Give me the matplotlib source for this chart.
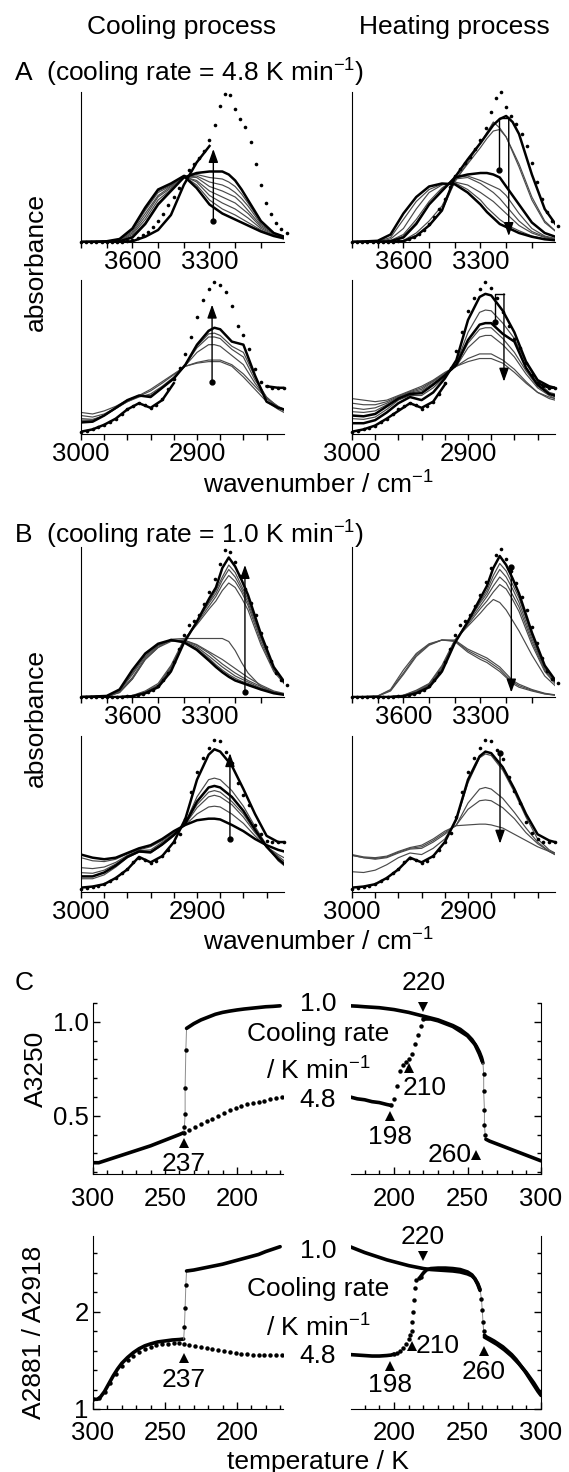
import numpy as np
import matplotlib
matplotlib.use('Agg')
import matplotlib.pyplot as plt
from matplotlib.ticker import FixedLocator, MultipleLocator

plt.rcParams['font.family'] = ['Liberation Sans', 'DejaVu Sans']
plt.rcParams['mathtext.default'] = 'regular'
plt.rcParams['font.size'] = 19

nan = np.nan

# ---------------- spectra: wavenumber grids ----------------
oh_grid = [3800, 3700, 3650, 3600, 3550, 3500, 3450, 3400, 3350, 3300, 3275, 3250, 3225, 3200, 3175, 3150, 3100, 3050, 3000]
ch_grid = [3000, 2990, 2980, 2970, 2960, 2950, 2940, 2930, 2920, 2910, 2900, 2890, 2885, 2880, 2870, 2860, 2850, 2840, 2830, 2825]
oh_dot_x = np.arange(3800, 2999, -20)
ch_dot_x = np.arange(3000, 2824, -5)

# A, cooling, OH region
a_tl_warm = [0, 0.005, 0.02, 0.09, 0.23, 0.35, 0.39, 0.44, 0.36, 0.25, 0.22, 0.19, 0.17, 0.15, 0.13, 0.11, 0.07, 0.04, 0.02]
a_tl_t1 = [0, 0.004, 0.02, 0.085, 0.22, 0.34, 0.38, 0.44, 0.38, 0.28, 0.25, 0.22, 0.20, 0.18, 0.155, 0.13, 0.08, 0.045, 0.02]
a_tl_t2 = [0, 0.003, 0.015, 0.08, 0.21, 0.33, 0.375, 0.44, 0.40, 0.31, 0.285, 0.26, 0.24, 0.22, 0.19, 0.16, 0.09, 0.05, 0.02]
a_tl_t3 = [0, 0.002, 0.012, 0.07, 0.19, 0.31, 0.37, 0.435, 0.41, 0.34, 0.32, 0.30, 0.28, 0.26, 0.225, 0.19, 0.10, 0.055, 0.025]
a_tl_t4 = [0, 0.002, 0.01, 0.06, 0.17, 0.30, 0.36, 0.435, 0.43, 0.37, 0.355, 0.34, 0.32, 0.30, 0.26, 0.21, 0.11, 0.06, 0.025]
a_tl_t5 = [0, 0.001, 0.008, 0.05, 0.15, 0.28, 0.35, 0.43, 0.44, 0.40, 0.39, 0.38, 0.36, 0.33, 0.29, 0.24, 0.12, 0.06, 0.03]
a_tl_t6 = [0, 0.001, 0.006, 0.04, 0.13, 0.26, 0.345, 0.43, 0.45, 0.43, 0.425, 0.42, 0.40, 0.37, 0.32, 0.26, 0.13, 0.06, 0.03]
a_tl_cold = [0, 0, 0.005, 0.03, 0.12, 0.25, 0.34, 0.43, 0.46, 0.47, 0.47, 0.47, 0.45, 0.41, 0.35, 0.28, 0.14, 0.06, 0.03]
a_tl_side = [0, 0, 0, 0.005, 0.035, 0.08, 0.18, 0.38, 0.53, 0.64, nan, nan, nan, nan, nan, nan, nan, nan, nan]
a_tl_dots = [0, 0, 0, 0, 0, 0, 0, 0, 0.003, 0.008, 0.015, 0.025, 0.045, 0.07, 0.10, 0.14, 0.19, 0.25, 0.30, 0.36,
             0.44, 0.48, 0.52, 0.56, 0.61, 0.68, 0.78, 0.91, 0.99, 0.98, 0.89, 0.82, 0.77, 0.67, 0.52, 0.38,
             0.26, 0.19, 0.13, 0.09, 0.06]

# A, heating, OH region
a_tr_start = [0, 0, 0.005, 0.03, 0.12, 0.25, 0.34, 0.43, 0.45, 0.46, 0.46, 0.45, 0.43, 0.37, 0.31, 0.25, 0.13, 0.06, 0.03]
a_tr_p1 = [0, 0, 0, 0.005, 0.04, 0.11, 0.21, 0.40, 0.53, 0.66, 0.73, 0.80, 0.76, 0.70, 0.60, 0.50, 0.28, 0.13, 0.06]
a_tr_p2 = [0, 0, 0, 0.01, 0.06, 0.14, 0.24, 0.41, 0.52, 0.63, 0.69, 0.74, 0.75, 0.70, 0.61, 0.52, 0.30, 0.14, 0.06]
a_tr_pmax = [0, 0, 0, 0.005, 0.04, 0.11, 0.21, 0.43, 0.55, 0.66, 0.72, 0.78, 0.82, 0.84, 0.80, 0.72, 0.45, 0.22, 0.10]
a_tr_h0 = [0, 0, 0.008, 0.04, 0.13, 0.25, 0.35, 0.43, 0.44, 0.41, 0.39, 0.37, 0.35, 0.31, 0.25, 0.19, 0.09, 0.04, 0.02]
a_tr_h1 = [0, 0, 0.01, 0.05, 0.15, 0.27, 0.36, 0.42, 0.43, 0.39, 0.36, 0.33, 0.29, 0.24, 0.19, 0.14, 0.07, 0.035, 0.015]
a_tr_h2 = [0, 0.002, 0.02, 0.09, 0.22, 0.33, 0.38, 0.40, 0.38, 0.33, 0.30, 0.27, 0.23, 0.19, 0.15, 0.11, 0.06, 0.03, 0.01]
a_tr_m2 = [0, 0.003, 0.03, 0.15, 0.27, 0.35, 0.385, 0.395, 0.35, 0.28, 0.23, 0.19, 0.15, 0.12, 0.095, 0.075, 0.04, 0.02, 0.01]
a_tr_m1 = [0, 0.008, 0.05, 0.19, 0.30, 0.37, 0.39, 0.385, 0.33, 0.25, 0.20, 0.16, 0.12, 0.10, 0.08, 0.06, 0.035, 0.018, 0.01]
a_tr_dots = [0, 0, 0, 0, 0, 0, 0, 0, 0.002, 0.005, 0.01, 0.02, 0.035, 0.055, 0.08, 0.12, 0.17, 0.22, 0.29, 0.37,
             0.44, 0.49, 0.53, 0.57, 0.62, 0.68, 0.76, 0.87, 0.96, 1.0, 0.90, 0.84, 0.79, 0.72, 0.64, 0.53,
             0.40, 0.29, 0.20, 0.14, 0.11]

# A, cooling, CH region
a_bl_cold = [0.075, 0.08, 0.12, 0.17, 0.22, 0.25, 0.24, 0.30, 0.36, 0.45, 0.58, 0.67, 0.69, 0.68, 0.60, 0.58, 0.38, 0.21, 0.17, 0.16]
a_bl_w1 = [0.14, 0.13, 0.15, 0.18, 0.22, 0.25, 0.29, 0.34, 0.39, 0.44, 0.46, 0.47, 0.47, 0.47, 0.44, 0.37, 0.29, 0.21, 0.16, 0.14]
a_bl_w2 = [0.12, 0.11, 0.13, 0.17, 0.21, 0.245, 0.28, 0.33, 0.385, 0.44, 0.465, 0.48, 0.48, 0.48, 0.45, 0.39, 0.31, 0.23, 0.18, 0.16]
a_bl_m1 = [0.10, 0.095, 0.12, 0.165, 0.21, 0.24, 0.26, 0.31, 0.37, 0.445, 0.53, 0.58, 0.58, 0.57, 0.51, 0.45, 0.33, 0.23, 0.17, 0.15]
a_bl_m2 = [0.09, 0.09, 0.12, 0.165, 0.215, 0.245, 0.25, 0.30, 0.365, 0.45, 0.56, 0.63, 0.63, 0.62, 0.55, 0.50, 0.35, 0.24, 0.175, 0.155]
a_bl_m3 = [0.085, 0.085, 0.12, 0.17, 0.22, 0.25, 0.245, 0.30, 0.36, 0.45, 0.57, 0.65, 0.655, 0.64, 0.57, 0.53, 0.37, 0.235, 0.175, 0.16]
a_bl_side = [0.015, 0.03, 0.06, 0.10, 0.16, 0.20, 0.17, 0.22, 0.33, nan, nan, nan, nan, nan, nan, nan, nan, 0.31, 0.30, 0.30]
a_bl_dots = [0.015, 0.02, 0.03, 0.045, 0.06, 0.08, 0.10, 0.13, 0.16, 0.185, 0.20, 0.19, 0.17, 0.19, 0.23, 0.29,
             0.36, 0.43, 0.52, 0.63, 0.76, 0.87, 0.94, 0.985, 0.97, 0.92, 0.83, 0.70, 0.64, 0.55, 0.42, 0.34,
             0.31, 0.30, 0.30, 0.30]

# A, heating, CH region
a_br_w1 = [0.23, 0.22, 0.21, 0.22, 0.25, 0.28, 0.31, 0.35, 0.40, 0.44, 0.47, 0.49, 0.49, 0.49, 0.46, 0.40, 0.33, 0.27, 0.24, 0.23]
a_br_w2 = [0.20, 0.19, 0.19, 0.21, 0.245, 0.275, 0.30, 0.345, 0.395, 0.44, 0.49, 0.52, 0.52, 0.52, 0.48, 0.42, 0.34, 0.27, 0.23, 0.22]
a_br_m1 = [0.17, 0.16, 0.17, 0.20, 0.24, 0.27, 0.29, 0.34, 0.39, 0.44, 0.56, 0.63, 0.64, 0.64, 0.58, 0.50, 0.39, 0.30, 0.25, 0.23]
a_br_m2 = [0.145, 0.14, 0.15, 0.19, 0.235, 0.265, 0.28, 0.33, 0.385, 0.445, 0.59, 0.68, 0.69, 0.69, 0.62, 0.53, 0.41, 0.31, 0.26, 0.24]
a_br_start = [0.12, 0.115, 0.13, 0.18, 0.23, 0.26, 0.265, 0.32, 0.38, 0.45, 0.61, 0.71, 0.72, 0.72, 0.65, 0.60, 0.43, 0.32, 0.26, 0.25]
a_br_high = [0.10, 0.095, 0.11, 0.16, 0.22, 0.25, 0.25, 0.30, 0.37, 0.46, 0.66, 0.79, 0.805, 0.80, 0.72, 0.62, 0.46, 0.34, 0.27, 0.26]
a_br_max = [0.07, 0.07, 0.09, 0.14, 0.20, 0.24, 0.22, 0.27, 0.36, 0.48, 0.74, 0.89, 0.91, 0.90, 0.80, 0.66, 0.47, 0.35, 0.31, 0.30]
a_br_side = [0.015, 0.03, 0.055, 0.10, 0.15, 0.20, 0.17, 0.21, 0.32, nan, nan, nan, nan, nan, nan, nan, nan, 0.33, 0.30, 0.30]
a_br_dots = [0.015, 0.02, 0.03, 0.04, 0.055, 0.075, 0.10, 0.13, 0.16, 0.185, 0.20, 0.19, 0.165, 0.18, 0.21, 0.26,
             0.33, 0.43, 0.54, 0.66, 0.80, 0.88, 0.94, 0.985, 0.95, 0.88, 0.79, 0.70, 0.62, 0.56, 0.46, 0.38,
             0.33, 0.31, 0.30, 0.30]

# B, cooling, OH region
b_tl_side = [0, 0, 0, 0.005, 0.025, 0.065, 0.17, 0.36, 0.50, 0.66, 0.73, 0.86, 0.93, 0.87, 0.78, 0.68, 0.42, 0.20, 0.08]
b_tl_t1 = [0, 0, 0, 0.005, 0.03, 0.07, 0.18, 0.37, 0.50, 0.64, 0.71, 0.80, 0.88, 0.83, 0.74, 0.65, 0.40, 0.19, 0.08]
b_tl_t2 = [0, 0, 0, 0.006, 0.03, 0.075, 0.19, 0.37, 0.50, 0.63, 0.69, 0.78, 0.85, 0.80, 0.72, 0.63, 0.39, 0.19, 0.08]
b_tl_t3 = [0, 0, 0.002, 0.008, 0.035, 0.08, 0.20, 0.375, 0.49, 0.61, 0.67, 0.75, 0.81, 0.77, 0.70, 0.61, 0.37, 0.18, 0.075]
b_tl_t4 = [0, 0, 0.003, 0.01, 0.04, 0.09, 0.21, 0.38, 0.48, 0.59, 0.64, 0.71, 0.76, 0.73, 0.66, 0.58, 0.35, 0.17, 0.07]
b_tl_flat = [0, 0.003, 0.03, 0.12, 0.25, 0.33, 0.385, 0.39, 0.39, 0.39, 0.39, 0.39, 0.37, 0.31, 0.23, 0.16, 0.07, 0.03, 0.015]
b_tl_f1 = [0, 0.003, 0.03, 0.12, 0.25, 0.33, 0.37, 0.38, 0.35, 0.30, 0.275, 0.25, 0.22, 0.19, 0.16, 0.13, 0.08, 0.04, 0.02]
b_tl_f2 = [0, 0.004, 0.035, 0.13, 0.26, 0.34, 0.375, 0.38, 0.345, 0.29, 0.255, 0.22, 0.19, 0.16, 0.135, 0.11, 0.07, 0.035, 0.015]
b_tl_f3 = [0, 0.005, 0.04, 0.15, 0.27, 0.345, 0.38, 0.375, 0.335, 0.27, 0.235, 0.20, 0.17, 0.14, 0.12, 0.10, 0.06, 0.03, 0.015]
b_tl_f4 = [0, 0.006, 0.045, 0.16, 0.28, 0.35, 0.38, 0.37, 0.325, 0.255, 0.215, 0.18, 0.15, 0.125, 0.105, 0.09, 0.055, 0.03, 0.015]
b_tl_warm = [0, 0.007, 0.05, 0.18, 0.29, 0.355, 0.38, 0.365, 0.315, 0.24, 0.20, 0.165, 0.135, 0.11, 0.095, 0.08, 0.05, 0.025, 0.012]
b_tl_dots = [0, 0, 0, 0, 0, 0, 0, 0, 0.002, 0.004, 0.007, 0.012, 0.02, 0.03, 0.045, 0.07, 0.11, 0.16, 0.23, 0.32,
             0.41, 0.48, 0.51, 0.55, 0.62, 0.70, 0.79, 0.89, 0.98, 0.97, 0.90, 0.81, 0.72, 0.63, 0.55, 0.43,
             0.33, 0.24, 0.16, 0.11, 0.08]

# B, heating, OH region
b_tr_side = [0, 0, 0, 0.005, 0.025, 0.065, 0.17, 0.36, 0.50, 0.66, 0.74, 0.86, 0.94, 0.88, 0.79, 0.69, 0.43, 0.21, 0.09]
b_tr_u1 = [0, 0, 0, 0.005, 0.03, 0.07, 0.18, 0.37, 0.50, 0.64, 0.71, 0.81, 0.89, 0.84, 0.75, 0.66, 0.41, 0.20, 0.085]
b_tr_u2 = [0, 0, 0, 0.006, 0.03, 0.075, 0.185, 0.37, 0.50, 0.63, 0.69, 0.78, 0.85, 0.80, 0.72, 0.63, 0.39, 0.19, 0.08]
b_tr_u3 = [0, 0, 0.002, 0.008, 0.035, 0.08, 0.19, 0.37, 0.49, 0.61, 0.67, 0.74, 0.80, 0.76, 0.68, 0.60, 0.37, 0.18, 0.075]
b_tr_u4 = [0, 0, 0.003, 0.01, 0.04, 0.085, 0.20, 0.375, 0.48, 0.59, 0.64, 0.70, 0.75, 0.72, 0.65, 0.57, 0.35, 0.17, 0.07]
b_tr_u5 = [0, 0, 0.004, 0.012, 0.045, 0.09, 0.21, 0.38, 0.47, 0.56, 0.61, 0.65, 0.63, 0.58, 0.51, 0.44, 0.28, 0.14, 0.06]
b_tr_v1 = [0, 0.005, 0.04, 0.15, 0.27, 0.345, 0.38, 0.38, 0.32, 0.28, 0.26, 0.23, 0.20, 0.155, 0.11, 0.085, 0.05, 0.025, 0.012]
b_tr_v2 = [0, 0.006, 0.045, 0.16, 0.28, 0.35, 0.38, 0.375, 0.31, 0.265, 0.245, 0.215, 0.185, 0.14, 0.10, 0.075, 0.045, 0.022, 0.01]
b_tr_v3 = [0, 0.007, 0.05, 0.18, 0.29, 0.355, 0.38, 0.37, 0.30, 0.25, 0.23, 0.20, 0.17, 0.13, 0.09, 0.065, 0.04, 0.02, 0.01]
b_tr_dots = [0, 0, 0, 0, 0, 0, 0, 0, 0.002, 0.004, 0.007, 0.012, 0.02, 0.03, 0.045, 0.07, 0.11, 0.16, 0.23, 0.32,
             0.41, 0.48, 0.51, 0.55, 0.61, 0.68, 0.77, 0.86, 0.95, 0.99, 0.92, 0.84, 0.76, 0.67, 0.58, 0.47,
             0.36, 0.26, 0.17, 0.12, 0.09]

# B, cooling, CH region
b_bl_warm = [0.24, 0.22, 0.21, 0.22, 0.25, 0.28, 0.30, 0.34, 0.39, 0.43, 0.46, 0.47, 0.47, 0.465, 0.43, 0.39, 0.34, 0.30, 0.27, 0.26]
b_bl_1 = [0.22, 0.20, 0.195, 0.21, 0.245, 0.27, 0.29, 0.33, 0.38, 0.43, 0.50, 0.545, 0.55, 0.545, 0.50, 0.44, 0.36, 0.29, 0.24, 0.22]
b_bl_2 = [0.156, 0.15, 0.16, 0.19, 0.235, 0.265, 0.27, 0.32, 0.375, 0.435, 0.54, 0.61, 0.62, 0.61, 0.56, 0.48, 0.38, 0.29, 0.23, 0.20]
b_bl_3 = [0.124, 0.12, 0.14, 0.18, 0.23, 0.26, 0.26, 0.31, 0.37, 0.44, 0.56, 0.64, 0.65, 0.64, 0.58, 0.50, 0.39, 0.29, 0.22, 0.19]
b_bl_4 = [0.10, 0.10, 0.125, 0.17, 0.225, 0.26, 0.255, 0.305, 0.365, 0.44, 0.58, 0.67, 0.68, 0.67, 0.61, 0.52, 0.40, 0.29, 0.21, 0.18]
b_bl_5 = [0.085, 0.085, 0.11, 0.16, 0.22, 0.255, 0.25, 0.30, 0.36, 0.445, 0.61, 0.72, 0.73, 0.72, 0.65, 0.55, 0.42, 0.30, 0.20, 0.17]
b_bl_cold = [0.028, 0.035, 0.05, 0.09, 0.145, 0.225, 0.19, 0.23, 0.32, 0.47, 0.72, 0.88, 0.915, 0.90, 0.81, 0.66, 0.50, 0.36, 0.32, 0.32]
b_bl_dots = [0.02, 0.025, 0.03, 0.04, 0.05, 0.07, 0.09, 0.12, 0.145, 0.19, 0.22, 0.205, 0.185, 0.20, 0.23, 0.27,
             0.32, 0.37, 0.47, 0.64, 0.77, 0.86, 0.92, 0.975, 0.965, 0.90, 0.83, 0.70, 0.625, 0.56, 0.43, 0.37,
             0.33, 0.32, 0.32, 0.32]

# B, heating, CH region
b_br_cold = [0.028, 0.035, 0.05, 0.09, 0.145, 0.22, 0.19, 0.23, 0.32, 0.47, 0.72, 0.87, 0.90, 0.89, 0.80, 0.66, 0.50, 0.37, 0.33, 0.32]
b_br_t = [0.13, 0.125, 0.14, 0.175, 0.22, 0.25, 0.24, 0.28, 0.34, 0.46, 0.70, 0.86, 0.885, 0.875, 0.78, 0.64, 0.48, 0.34, 0.27, 0.25]
b_br_1 = [0.235, 0.22, 0.21, 0.22, 0.25, 0.275, 0.28, 0.32, 0.37, 0.43, 0.57, 0.66, 0.67, 0.66, 0.60, 0.51, 0.41, 0.32, 0.26, 0.24]
b_br_2 = [0.235, 0.22, 0.215, 0.225, 0.255, 0.28, 0.29, 0.33, 0.38, 0.43, 0.53, 0.585, 0.59, 0.585, 0.54, 0.47, 0.38, 0.31, 0.26, 0.24]
b_br_3 = [0.24, 0.225, 0.22, 0.23, 0.26, 0.285, 0.30, 0.34, 0.39, 0.425, 0.43, 0.435, 0.435, 0.43, 0.41, 0.37, 0.33, 0.29, 0.26, 0.25]
b_br_dots = [0.02, 0.025, 0.03, 0.04, 0.05, 0.07, 0.09, 0.12, 0.145, 0.19, 0.22, 0.205, 0.185, 0.20, 0.23, 0.27,
             0.32, 0.38, 0.48, 0.64, 0.77, 0.86, 0.92, 0.975, 0.965, 0.91, 0.85, 0.74, 0.65, 0.57, 0.45, 0.38,
             0.34, 0.32, 0.32, 0.32]

# ---------------- C: temperature dependence ----------------
# A3250, cooling
c1_cool_T = [300, 296, 290, 280, 270, 260, 250, 240, 237]
c1_cool_v = [0.25, 0.25, 0.265, 0.29, 0.315, 0.34, 0.37, 0.40, 0.41]
c1_jump_T = [237, 236.5, 236, 236, 235.5, 235]
c1_jump_v = [0.41, 0.44, 0.51, 0.65, 0.85, 0.965]
c1_slow_T = [235, 230, 225, 220, 215, 210, 205, 200, 195, 190, 185, 180, 175, 170]
c1_slow_v = [0.965, 0.99, 1.01, 1.025, 1.04, 1.05, 1.057, 1.063, 1.068, 1.072, 1.076, 1.08, 1.082, 1.085]
c1_fast_T = [237, 233, 229, 225, 221, 217, 213, 209, 205, 201, 197, 193, 189, 185, 181, 177, 173, 169]
c1_fast_v = [0.41, 0.425, 0.44, 0.455, 0.47, 0.485, 0.50, 0.515, 0.53, 0.54, 0.55, 0.56, 0.57, 0.575, 0.58, 0.59, 0.595, 0.60]
# A3250, heating
c1_heat_slow_T = [170, 175, 180, 190, 200, 210, 220, 230, 235, 240, 245, 250, 253, 256, 258, 259.5, 260.5]
c1_heat_slow_v = [1.085, 1.083, 1.08, 1.075, 1.065, 1.05, 1.03, 1.01, 0.995, 0.98, 0.96, 0.93, 0.905, 0.87, 0.84, 0.81, 0.78]
c1_melt_T = [260.5, 261, 261, 261.5, 261.5, 262, 262.5]
c1_melt_v = [0.78, 0.72, 0.63, 0.53, 0.45, 0.40, 0.375]
c1_warm_T = [262.5, 265, 270, 275, 280, 285, 290, 295, 300]
c1_warm_v = [0.375, 0.365, 0.35, 0.335, 0.32, 0.305, 0.29, 0.275, 0.26]
c1_heat_fast_T = [170, 175, 180, 185, 190, 195, 198]
c1_heat_fast_v = [0.60, 0.59, 0.585, 0.575, 0.57, 0.56, 0.555]
c1_cryst_T = [198, 200, 202, 204, 206, 208, 210, 212, 214, 216, 218, 220]
c1_cryst_v = [0.555, 0.59, 0.66, 0.74, 0.77, 0.785, 0.80, 0.83, 0.88, 0.93, 0.98, 1.015]
c1_heat_fast2_T = [220, 225, 230, 240, 250, 255, 258, 260]
c1_heat_fast2_v = [1.015, 1.015, 1.005, 0.975, 0.925, 0.88, 0.83, 0.79]

# A2881/A2918, cooling
c2_cool_T = [300, 297, 295, 292, 289, 286, 283, 280, 276, 272, 268, 264, 260, 255, 250, 245, 240, 237]
c2_cool_v = [1.10, 1.10, 1.12, 1.18, 1.26, 1.34, 1.41, 1.47, 1.53, 1.58, 1.62, 1.65, 1.67, 1.69, 1.70, 1.71, 1.715, 1.72]
c2_cool_fast1_T = [300, 296, 292, 288, 284, 280, 276, 272, 268, 264, 260, 256, 252, 248, 244, 240]
c2_cool_fast1_v = [1.10, 1.11, 1.17, 1.27, 1.36, 1.44, 1.50, 1.55, 1.59, 1.62, 1.64, 1.655, 1.665, 1.67, 1.675, 1.68]
c2_jump_T = [237, 236.5, 236, 235.5, 235]
c2_jump_v = [1.72, 1.84, 2.04, 2.28, 2.42]
c2_slow_T = [235, 230, 225, 220, 215, 210, 205, 200, 195, 190, 185, 180, 175, 170]
c2_slow_v = [2.42, 2.43, 2.445, 2.46, 2.475, 2.49, 2.51, 2.53, 2.55, 2.57, 2.59, 2.62, 2.645, 2.67]
c2_fast_T = [237, 233, 229, 225, 221, 217, 213, 209, 205, 201, 197, 193, 189, 185, 181, 177, 173, 169]
c2_fast_v = [1.67, 1.66, 1.65, 1.635, 1.625, 1.615, 1.605, 1.595, 1.585, 1.575, 1.57, 1.565, 1.56, 1.555, 1.555, 1.555, 1.555, 1.555]
# A2881/A2918, heating
c2_heat_slow_T = [170, 175, 180, 185, 190, 195, 200, 205, 210, 215, 220, 225, 230, 235, 240, 245, 250, 253, 255, 257, 258.5]
c2_heat_slow_v = [2.67, 2.64, 2.61, 2.585, 2.56, 2.535, 2.515, 2.495, 2.475, 2.46, 2.445, 2.435, 2.43, 2.425, 2.42, 2.41, 2.39, 2.37, 2.34, 2.29, 2.23]
c2_melt_T = [258.5, 259.5, 260, 260.5, 261, 261.5]
c2_melt_v = [2.23, 2.13, 2.02, 1.90, 1.80, 1.76]
c2_warm_T = [261.5, 263, 265, 268, 271, 274, 277, 280, 283, 286, 289, 292, 295, 298, 300]
c2_warm_v = [1.76, 1.74, 1.725, 1.70, 1.67, 1.64, 1.60, 1.56, 1.51, 1.45, 1.39, 1.32, 1.25, 1.18, 1.14]
c2_heat_fast_T = [170, 175, 180, 185, 190, 195, 198, 200]
c2_heat_fast_v = [1.56, 1.555, 1.55, 1.545, 1.545, 1.55, 1.555, 1.565]
c2_cryst_T = [200, 202, 204, 206, 208, 210, 211, 212, 212.5, 213, 213.5, 214, 215, 217, 218]
c2_cryst_v = [1.565, 1.58, 1.60, 1.63, 1.67, 1.72, 1.76, 1.80, 1.90, 2.0, 2.12, 2.24, 2.33, 2.35, 2.36]
c2_heat_fast2_T = [218, 220, 222, 225, 230, 235, 240, 245, 250, 253, 255, 257, 258.5]
c2_heat_fast2_v = [2.36, 2.40, 2.43, 2.445, 2.45, 2.45, 2.445, 2.435, 2.41, 2.38, 2.34, 2.28, 2.22]
c2_warm2_T = [261.5, 265, 270, 275, 280, 285, 290, 295, 300]
c2_warm2_v = [1.74, 1.71, 1.665, 1.61, 1.545, 1.465, 1.375, 1.27, 1.15]

# ---------------- drawing ----------------
W, H = 569, 1472
fig = plt.figure(figsize=(W / 100, H / 100), dpi=100)
THIN = dict(color='#4a4a4a', lw=0.85)
THICK = dict(color='k', lw=1.8)


def px_axes(x0, y0, x1, y1):
    ax = fig.add_axes([x0 / W, 1 - y1 / H, (x1 - x0) / W, (y1 - y0) / H])
    ax.patch.set_alpha(0)
    return ax


def spec_axes(x0, y0, x1, y1, region):
    ax = px_axes(x0, y0, x1, y1)
    for s in ['top', 'right']:
        ax.spines[s].set_visible(False)
    ax.set_yticks([])
    ax.set_ylim(0, 1)
    if region == 'oh':
        ax.set_xlim(3800, 3010)
        ax.xaxis.set_major_locator(FixedLocator([3600, 3300]))
        ax.xaxis.set_minor_locator(MultipleLocator(100))
    else:
        ax.set_xlim(3000, 2825)
        ax.xaxis.set_major_locator(FixedLocator([3000, 2900]))
        ax.xaxis.set_minor_locator(MultipleLocator(20))
    ax.tick_params(axis='x', which='both', direction='out', length=4, width=1, pad=2, labelsize=18.5)
    return ax


def draw_spec(ax, grid, thin, thick, dots_x, dots_y):
    for y in thin:
        ax.plot(grid, y, **THIN)
    for y in thick:
        ax.plot(grid, y, **THICK)
    ax.plot(dots_x, dots_y, 'o', color='k', ms=2.6, mew=0, clip_on=False)


ARW = dict(arrowstyle='-|>,head_length=0.9,head_width=0.32', mutation_scale=9,
           color='k', lw=1.0, shrinkA=0, shrinkB=0)


def arrow(ax, x, y0, y1):
    ax.annotate('', xy=(x, y1), xytext=(x, y0), arrowprops=ARW)
    ax.plot([x], [y0], 'o', color='k', ms=3.5)


def bracket(ax, xa, ya, ytop, xb, yb):
    ax.plot([xa, xa, xb], [ya, ytop, ytop], color='k', lw=1.0)
    ax.plot([xa], [ya], 'o', color='k', ms=3.5)
    ax.annotate('', xy=(xb, yb), xytext=(xb, ytop), arrowprops=ARW)


# A panels
ax = spec_axes(81, 92, 284, 242, 'oh')
draw_spec(ax, oh_grid, [a_tl_t1, a_tl_t2, a_tl_t3, a_tl_t4, a_tl_t5, a_tl_t6],
          [a_tl_warm, a_tl_cold, a_tl_side], oh_dot_x, a_tl_dots)
arrow(ax, 3285, 0.14, 0.62)

ax = spec_axes(352, 92, 555, 242, 'oh')
draw_spec(ax, oh_grid, [a_tr_p1, a_tr_p2, a_tr_h0, a_tr_h1, a_tr_h2, a_tr_m2],
          [a_tr_start, a_tr_pmax, a_tr_m1], oh_dot_x, a_tr_dots)
bracket(ax, 3228, 0.48, 0.83, 3190, 0.04)

ax = spec_axes(81, 280, 284, 434, 'ch')
draw_spec(ax, ch_grid, [a_bl_w1, a_bl_w2, a_bl_m1, a_bl_m2, a_bl_m3],
          [a_bl_cold, a_bl_side], ch_dot_x, a_bl_dots)
arrow(ax, 2887, 0.34, 0.84)

ax = spec_axes(352, 280, 555, 434, 'ch')
draw_spec(ax, ch_grid, [a_br_w1, a_br_w2, a_br_m1, a_br_m2, a_br_high],
          [a_br_start, a_br_max, a_br_side], ch_dot_x, a_br_dots)
bracket(ax, 2877, 0.73, 0.91, 2869, 0.34)

# B panels
ax = spec_axes(81, 547, 284, 697, 'oh')
draw_spec(ax, oh_grid, [b_tl_t1, b_tl_t2, b_tl_t3, b_tl_t4, b_tl_flat, b_tl_f1, b_tl_f2, b_tl_f3, b_tl_f4],
          [b_tl_side, b_tl_warm], oh_dot_x, b_tl_dots)
arrow(ax, 3162, 0.03, 0.88)

ax = spec_axes(352, 547, 555, 697, 'oh')
draw_spec(ax, oh_grid, [b_tr_u1, b_tr_u2, b_tr_u3, b_tr_u4, b_tr_u5, b_tr_v1, b_tr_v2, b_tr_v3],
          [b_tr_side], oh_dot_x, b_tr_dots)
arrow(ax, 3180, 0.87, 0.03)

ax = spec_axes(81, 736, 284, 892, 'ch')
draw_spec(ax, ch_grid, [b_bl_1, b_bl_2, b_bl_3, b_bl_5],
          [b_bl_warm, b_bl_4, b_bl_cold], ch_dot_x, b_bl_dots)
arrow(ax, 2871.6, 0.34, 0.89)

ax = spec_axes(352, 736, 555, 892, 'ch')
draw_spec(ax, ch_grid, [b_br_t, b_br_1, b_br_2, b_br_3],
          [b_br_cold], ch_dot_x, b_br_dots)
arrow(ax, 2872.4, 0.89, 0.31)


# C panels
def temp_axes(x0, y0, x1, y1, side, ylim, ymaj, ymin, ylabels):
    ax = px_axes(x0, y0, x1, y1)
    ax.spines['top'].set_visible(False)
    if side == 'left':
        ax.spines['right'].set_visible(False)
        ax.set_xlim(300, 168)
        ax.yaxis.tick_left()
        ax.set_yticks(ymaj)
        ax.set_yticklabels(ylabels)
    else:
        ax.spines['left'].set_visible(False)
        ax.set_xlim(170.7, 300)
        ax.yaxis.tick_right()
        ax.set_yticks(ymaj)
        ax.tick_params(axis='y', labelright=False)
    ax.set_ylim(*ylim)
    ax.xaxis.set_major_locator(FixedLocator([300, 250, 200]))
    ax.xaxis.set_minor_locator(MultipleLocator(10))
    ax.yaxis.set_minor_locator(MultipleLocator(ymin))
    ax.tick_params(which='both', direction='in', width=1, labelsize=18.5)
    ax.tick_params(axis='x', pad=9)
    ax.tick_params(axis='y', pad=3)
    ax.tick_params(which='major', length=5)
    ax.tick_params(which='minor', length=3)
    return ax


def band(ax, T, v):
    ax.plot(T, v, color='k', lw=2.6, solid_capstyle='round')


def sparse(ax, T, v):
    ax.plot(T, v, 'o', color='k', ms=3.2, mew=0)


def jump(ax, T, v):
    ax.plot(T, v, color='0.55', lw=0.7)
    ax.plot(T[1:-1], v[1:-1], 'o', color='k', ms=3.2, mew=0)


def mark(ax, T, v, up, label, tx, ty, ha='center'):
    ax.plot([T], [v], marker='^' if up else 'v', color='k', ms=6.5, mew=0, clip_on=False)
    ax.text(tx, ty, label, ha=ha, va='center', fontsize=19)


ax = temp_axes(93, 1003, 283, 1174, 'left', (0.19, 1.10), [0.5, 1.0], 0.1, ['0.5', '1.0'])
band(ax, c1_cool_T, c1_cool_v)
jump(ax, c1_jump_T, c1_jump_v)
band(ax, c1_slow_T, c1_slow_v)
sparse(ax, c1_fast_T, c1_fast_v)
mark(ax, 237, 0.355, True, '237', 237, 0.245)

ax = temp_axes(351, 1003, 541, 1174, 'right', (0.19, 1.10), [0.5, 1.0], 0.1, None)
band(ax, c1_heat_slow_T, c1_heat_slow_v)
jump(ax, c1_melt_T, c1_melt_v)
band(ax, c1_warm_T, c1_warm_v)
band(ax, c1_heat_fast_T, c1_heat_fast_v)
sparse(ax, c1_cryst_T, c1_cryst_v)
band(ax, c1_heat_fast2_T, c1_heat_fast2_v)
mark(ax, 220, 1.08, False, '220', 220, 1.205)
mark(ax, 210.3, 0.755, True, '210', 221, 0.65)
mark(ax, 197, 0.497, True, '198', 197.5, 0.385)
mark(ax, 256, 0.29, True, '260', 253, 0.29, ha='right')

ax = temp_axes(93, 1236, 283, 1409, 'left', (1.0, 2.78), [1, 2], 0.2, ['1', '2'])
band(ax, c2_cool_T, c2_cool_v)
sparse(ax, c2_cool_fast1_T, c2_cool_fast1_v)
jump(ax, c2_jump_T, c2_jump_v)
band(ax, c2_slow_T, c2_slow_v)
sparse(ax, c2_fast_T, c2_fast_v)
mark(ax, 237, 1.525, True, '237', 237, 1.30)

ax = temp_axes(351, 1236, 541, 1409, 'right', (1.0, 2.78), [1, 2], 0.2, None)
band(ax, c2_heat_slow_T, c2_heat_slow_v)
jump(ax, c2_melt_T, c2_melt_v)
band(ax, c2_warm_T, c2_warm_v)
band(ax, c2_heat_fast_T, c2_heat_fast_v)
sparse(ax, c2_cryst_T, c2_cryst_v)
band(ax, c2_heat_fast2_T, c2_heat_fast2_v)
band(ax, c2_warm2_T, c2_warm2_v)
mark(ax, 219.6, 2.575, False, '220', 219.6, 2.77)
mark(ax, 212.3, 1.647, True, '210', 215, 1.647, ha='left')
mark(ax, 197, 1.44, True, '198', 197, 1.25)
mark(ax, 261.2, 1.596, True, '260', 261, 1.38)


# ---------------- texts ----------------
def ftext(x, y, s, **kw):
    fig.text(x / W, 1 - y / H, s, va='center', fontsize=19, **kw)


ftext(182, 27, 'Cooling process', ha='center')
ftext(454, 27, 'Heating process', ha='center')
ftext(14, 73, 'A  (cooling rate = 4.8 K min$^{-1}$)', ha='left')
ftext(14, 535, 'B  (cooling rate = 1.0 K min$^{-1}$)', ha='left')
ftext(36, 262, 'absorbance', ha='center', rotation=90)
ftext(36, 718, 'absorbance', ha='center', rotation=90)
ftext(318, 485, 'wavenumber / cm$^{-1}$', ha='center')
ftext(318, 942, 'wavenumber / cm$^{-1}$', ha='center')
ftext(24, 983, 'C', ha='center')
ftext(36, 1069, 'A3250', ha='center', rotation=90)
ftext(34, 1332, 'A2881 / A2918', ha='center', rotation=90)
ftext(318, 1462, 'temperature / K', ha='center')
for (yy, s) in [(1004, '1.0'), (1034, 'Cooling rate'), (1071, '/ K min$^{-1}$'), (1100, '4.8'),
                (1251, '1.0'), (1289, 'Cooling rate'), (1328, '/ K min$^{-1}$'), (1356, '4.8')]:
    ftext(318, yy, s, ha='center')

fig.savefig('out.png', dpi=100)
